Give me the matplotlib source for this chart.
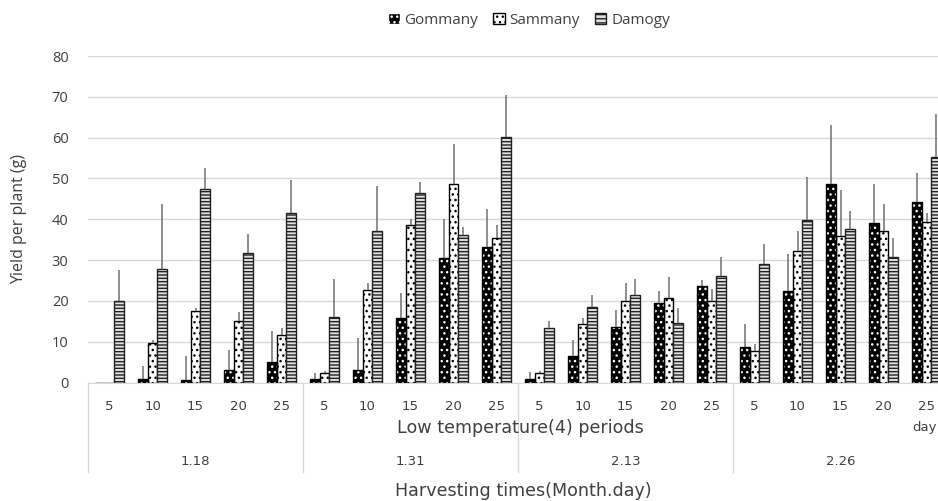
import numpy as np
import matplotlib
matplotlib.use("Agg")
import matplotlib.pyplot as plt
from matplotlib.patches import Patch

# Harvest dates and days of low temperature
dates = ["1.18", "1.31", "2.13", "2.26"]
days = [5, 10, 15, 20, 25]

# Mean yield per plant (g), one value per (date, days) in order
gommany = [0.0, 0.9, 0.5, 3.0, 5.1,
           0.9, 3.0, 15.9, 30.4, 33.3,
           0.9, 6.6, 13.7, 19.4, 23.7,
           8.8, 22.3, 48.6, 39.0, 44.3]
sammany = [0.0, 9.7, 17.5, 15.1, 11.6,
           2.4, 22.6, 38.6, 48.6, 35.3,
           2.4, 14.3, 20.0, 20.8, 20.0,
           7.6, 32.2, 36.0, 37.1, 39.3]
damogy = [20.0, 27.9, 47.4, 31.8, 41.5,
          16.1, 37.1, 46.5, 36.2, 60.2,
          13.3, 18.6, 21.4, 14.7, 26.1,
          29.0, 39.7, 37.5, 30.8, 55.3]

# Upper error (standard deviation)
gommany_err = [0.0, 3.1, 6.1, 5.0, 7.5,
               1.4, 7.8, 6.0, 9.6, 9.1,
               1.7, 3.8, 4.1, 3.1, 1.4,
               5.5, 9.1, 14.5, 9.6, 7.1]
sammany_err = [0.0, 0.7, 0.8, 2.1, 1.8,
               0.3, 1.7, 1.4, 9.9, 3.3,
               0.3, 1.6, 4.3, 5.0, 2.9,
               1.8, 4.9, 11.2, 6.6, 2.2]
damogy_err = [7.6, 15.8, 5.1, 4.6, 8.1,
              9.3, 11.1, 2.7, 2.0, 10.3,
              1.8, 2.8, 4.0, 3.6, 4.7,
              4.9, 10.6, 4.6, 4.5, 10.4]

plt.rcParams["font.family"] = ["Open Sans", "DejaVu Sans"]
plt.rcParams["hatch.linewidth"] = 1.0
txt_color = "#404040"
narrow = "Liberation Sans Narrow"

fig = plt.figure(figsize=(9.38, 5.01), dpi=100)
# plot area runs a little past the right edge, as in the original layout
ax = fig.add_axes([88 / 938, 118.5 / 501, 860 / 938, 326.5 / 501])

x = np.arange(len(dates) * len(days))
w = 0.22

# Gommany: black fill with white dots
ax.bar(x - w, gommany, w, color="black", edgecolor="white", hatch="...", linewidth=0, zorder=3)
ax.bar(x - w, gommany, w, fill=False, edgecolor="black", linewidth=1.0, zorder=4)
# Sammany: white fill with black dots
ax.bar(x, sammany, w, color="white", edgecolor="black", hatch="...", linewidth=1.0, zorder=3)
# Damogy: horizontal stripes
ax.bar(x + w, damogy, w, color="#e0e0e0", edgecolor="#222222", hatch="-----", linewidth=1.0, zorder=3)

zeros = np.zeros(len(x))
for off, vals, err in [(-w, gommany, gommany_err), (0, sammany, sammany_err), (w, damogy, damogy_err)]:
    ax.errorbar(x + off, vals, yerr=[zeros, err], fmt="none", ecolor="#707070",
                elinewidth=1.1, capsize=0, zorder=5)

ax.set_xlim(-0.5, len(x) - 0.5)
ax.set_ylim(0, 80)
ax.set_yticks(np.arange(0, 81, 10))
ax.yaxis.grid(True, color="#d9d9d9", linewidth=1.0, zorder=0)
ax.set_axisbelow(True)
for s in ["top", "right", "left"]:
    ax.spines[s].set_visible(False)
ax.spines["bottom"].set_color("#d9d9d9")
ax.tick_params(axis="y", length=0, labelsize=10.5, labelcolor=txt_color, pad=14)
ax.set_xticks([])
ax.set_ylabel("Yield per plant (g)", fontsize=11.5, color=txt_color)
ax.yaxis.set_label_coords(-0.071, 0.5)

# multi-level category axis
trans = ax.get_xaxis_transform()
for i, xi in enumerate(x):
    ax.text(xi, -0.075, str(days[i % len(days)]), transform=trans, ha="center", va="center",
            fontsize=9.5, color=txt_color, family=narrow)
for g, d in enumerate(dates):
    ax.text(g * len(days) + 2, -0.243, d, transform=trans, ha="center", va="center",
            fontsize=9.5, color=txt_color, family=narrow)
for g in range(len(dates) + 1):
    ax.plot([g * len(days) - 0.5] * 2, [0, -0.274], transform=trans, color="#d9d9d9",
            linewidth=1.0, clip_on=False)
ax.text(9.55, -0.14, "Low temperature(4) periods", transform=trans, ha="center", va="center",
        fontsize=12.6, color=txt_color, family=narrow)
ax.text(18.67, -0.137, "day", transform=trans, ha="left", va="center",
        fontsize=9.5, color=txt_color, family=narrow)
fig.text(523 / 938, 9.5 / 501, "Harvesting times(Month.day)", ha="center", va="center",
         fontsize=12.6, color=txt_color, family=narrow)

handles = [Patch(facecolor="black", edgecolor="white", hatch="..."),
           Patch(facecolor="white", edgecolor="black", hatch="..."),
           Patch(facecolor="#e0e0e0", edgecolor="#222222", hatch="----")]
leg = fig.legend(handles, ["Gommany", "Sammany", "Damogy"], loc="center", ncol=3,
                 bbox_to_anchor=(529 / 938, 1 - 20 / 501), frameon=False, fontsize=11,
                 handlelength=0.75, handleheight=0.75, handletextpad=0.3, columnspacing=1.0)
for t in leg.get_texts():
    t.set_color(txt_color)

fig.savefig("out.png", dpi=100)
